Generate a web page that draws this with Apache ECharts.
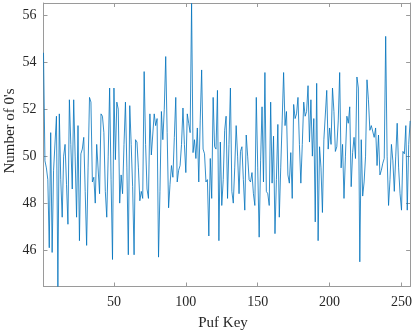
<!DOCTYPE html>
<html>
<head>
<meta charset="utf-8">
<script src="https://cdn.jsdelivr.net/npm/echarts@6/dist/echarts.min.js"></script>
<style>
html,body{margin:0;padding:0;background:#fff;}
#c{width:415px;height:335px;}
</style>
</head>
<body>
<div id="c"></div>
<script>
var zeroCounts = [
54.4,49.8,49.5,49.0,46.1,51.0,45.9,49.4,49.4,51.7,
44.45,51.8,49.0,47.4,50.0,50.5,48.8,47.1,52.4,50.5,
48.6,52.4,50.0,47.4,51.3,46.4,50.1,50.3,50.8,48.5,
46.2,49.5,52.5,52.3,48.9,49.1,48.0,50.5,50.5,48.4,
51.8,51.7,51.0,48.5,47.4,50.0,52.9,49.0,45.6,52.9,
49.85,52.3,52.0,48.0,49.2,48.4,50.5,52.3,49.5,45.8,
52.15,50.5,48.7,45.8,50.7,50.6,49.5,48.1,48.5,48.2,
53.6,50.5,48.6,48.2,51.8,50.05,50.1,51.8,51.3,51.6,
45.7,48.5,51.9,50.7,52.0,54.24,51.0,47.8,48.8,49.6,
49.1,50.8,52.5,48.9,49.4,49.6,50.5,52.05,50.5,49.3,
51.8,51.4,51.0,56.5,50.15,50.7,49.9,51.2,48.9,51.5,
53.67,50.3,50.1,48.9,49.0,46.6,49.9,48.2,52.5,50.4,
50.3,52.8,46.4,50.6,47.9,49.0,51.1,51.7,48.2,50.5,
52.9,48.5,48.0,49.5,51.3,50.0,48.4,50.2,50.4,49.0,
47.7,50.9,50.0,49.0,48.9,49.3,48.4,47.9,52.5,49.5,
46.55,49.8,52.1,48.9,53.56,48.5,48.4,47.9,52.3,48.85,
50.85,46.7,49.0,51.35,47.4,49.5,51.5,53.56,51.3,51.9,
49.2,48.85,50.15,48.2,52.2,51.6,51.8,52.5,50.5,48.85,
50.5,52.3,51.7,51.9,53.0,50.6,52.4,50.0,51.6,47.2,
53.1,46.4,50.4,49.5,47.6,50.7,50.7,52.8,50.3,51.2,
50.5,52.9,51.9,50.2,50.4,51.5,53.56,49.5,50.5,48.2,
50.0,51.7,51.4,52.1,48.7,50.15,50.8,49.9,53.37,52.9,
45.5,50.7,48.3,48.9,50.0,53.25,52.4,51.1,51.3,51.3,
50.8,51.2,49.6,50.9,49.2,49.4,49.7,49.9,55.1,50.0,
47.9,49.0,50.5,49.8,48.5,50.0,51.4,49.5,48.4,47.7,
50.2,50.1,51.3,47.7,50.5,51.5
];
var pufKeys = zeroCounts.map(function(_, i){ return i + 1; });
var xTicks = [50, 100, 150, 200, 250];
var yTicks = [46, 48, 50, 52, 54, 56];
var xRange = [1, 256];
var yRange = [44.45, 56.52];
var xTitle = 'Puf Key';
var yTitle = "Number of 0's";

var seriesData = pufKeys.map(function(k, i){ return [k, zeroCounts[i]]; });

var axisColor = '#9a9a9a';
var textColor = '#262626';
var font = 'Liberation Serif, Times New Roman, serif';

function xAx(pos, show){
  return {
    type: 'value', position: pos, min: xRange[0], max: xRange[1],
    axisLine: {show: true, onZero: false, lineStyle: {color: axisColor, width: 1}},
    axisTick: {show: true, inside: true, length: 4, customValues: xTicks, lineStyle: {color: axisColor}},
    axisLabel: {show: show, customValues: xTicks, margin: 9, fontFamily: font, fontSize: 14, color: textColor},
    splitLine: {show: false}
  };
}
function yAx(pos, show){
  return {
    type: 'value', position: pos, min: yRange[0], max: yRange[1],
    axisLine: {show: true, onZero: false, lineStyle: {color: axisColor, width: 1}},
    axisTick: {show: true, inside: true, length: 4, customValues: yTicks, lineStyle: {color: axisColor}},
    axisLabel: {show: show, customValues: yTicks, margin: 7, fontFamily: font, fontSize: 14, color: textColor},
    splitLine: {show: false}
  };
}

var chart = echarts.init(document.getElementById('c'), null, {renderer: 'canvas'});
chart.setOption({
  animation: false,
  backgroundColor: '#fff',
  grid: {left: 43.5, right: 4, top: 3, bottom: 48.5, containLabel: false},
  xAxis: [xAx('bottom', true), xAx('top', false)],
  yAxis: [yAx('left', true), yAx('right', false)],
  graphic: [
    {type: 'text', x: 223, y: 323, style: {text: xTitle, fontFamily: font, fontSize: 15, fill: textColor, align: 'center', verticalAlign: 'middle'}},
    {type: 'text', x: 10, y: 131, rotation: Math.PI / 2, style: {text: yTitle, fontFamily: font, fontSize: 15, fill: textColor, align: 'center', verticalAlign: 'middle'}}
  ],
  series: [{
    type: 'line', data: seriesData, xAxisIndex: 0, yAxisIndex: 0,
    showSymbol: false, symbol: 'none',
    lineStyle: {color: '#0072BD', width: 0.8},
    clip: true
  }]
});
</script>
</body>
</html>
